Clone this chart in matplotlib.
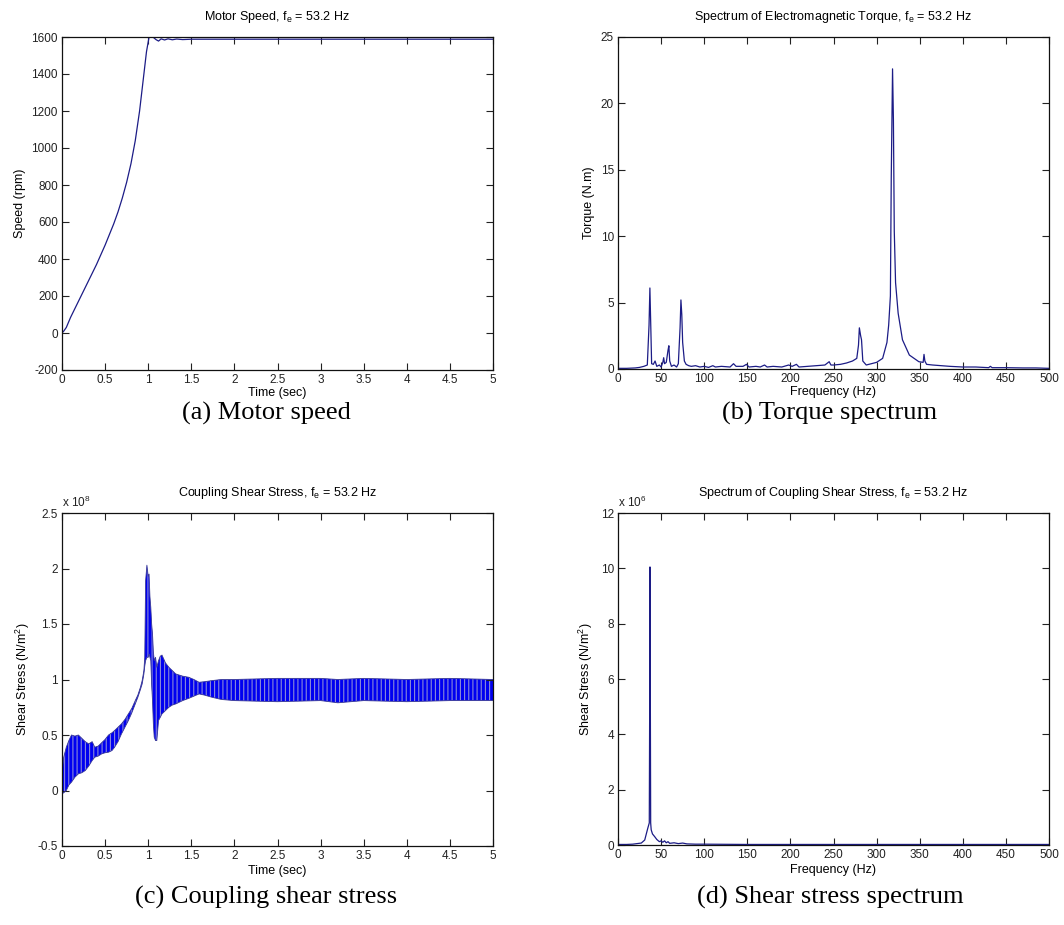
import numpy as np
import matplotlib
matplotlib.use("Agg")
import matplotlib.pyplot as plt
from matplotlib.ticker import FuncFormatter

plt.rcParams['font.family'] = ['Liberation Sans', 'DejaVu Sans']
plt.rcParams['mathtext.fontset'] = 'custom'
plt.rcParams['mathtext.rm'] = 'Liberation Sans'
plt.rcParams['mathtext.default'] = 'regular'
plt.rcParams['axes.unicode_minus'] = False
plt.rcParams['hatch.color'] = '#8a8ad8'
plt.rcParams['hatch.linewidth'] = 0.8

# (a) motor speed, rpm vs time (s)
t_speed = [0, 0.02, 0.05, 0.1, 0.2, 0.3, 0.4, 0.5, 0.6, 0.65, 0.7, 0.75, 0.8, 0.85, 0.9,
           0.95, 0.98, 1.01, 1.03, 1.06, 1.09, 1.12, 1.15, 1.19, 1.23, 1.28, 1.33, 1.4, 1.5, 5.0]
speed = [0, 10, 30, 85, 180, 275, 370, 475, 590, 655, 730, 815, 915, 1040, 1200,
         1400, 1520, 1600, 1612, 1598, 1586, 1578, 1590, 1584, 1590, 1585, 1589, 1586, 1588, 1588]

# (b) spectrum of electromagnetic torque
freq_b = [0, 10, 20, 25, 30, 34, 36, 37, 38, 39, 41, 43, 45, 48, 50, 52, 53, 54, 56, 58, 59, 60,
          62, 65, 68, 70, 72, 73, 74, 75, 77, 79, 82, 85, 90, 95, 100, 105, 110, 113, 120, 130,
          134, 137, 145, 149, 152, 160, 165, 170, 173, 180, 190, 198, 202, 207, 210, 220, 230,
          240, 245, 247, 250, 258, 265, 272, 277, 279, 280, 281.5, 282.5, 284, 288, 294, 300,
          307, 312, 314, 316, 317, 318.5, 319.5, 320.5, 322, 325, 330, 338, 349, 354, 355, 356,
          358, 365, 375, 385, 400, 415, 430, 432, 434, 450, 470, 485, 500]
torque_b = [0.05, 0.05, 0.08, 0.12, 0.2, 0.3, 3.3, 6.1, 3.3, 0.4, 0.35, 0.6, 0.2, 0.3, 0.15, 0.5,
            0.85, 0.4, 0.5, 1.4, 1.75, 0.6, 0.2, 0.3, 0.15, 0.4, 3.1, 5.2, 4.1, 2.0, 0.6, 0.35,
            0.25, 0.2, 0.25, 0.15, 0.2, 0.12, 0.25, 0.15, 0.2, 0.15, 0.4, 0.2, 0.2, 0.35, 0.15,
            0.2, 0.15, 0.3, 0.15, 0.2, 0.15, 0.3, 0.2, 0.35, 0.15, 0.2, 0.25, 0.3, 0.55, 0.3,
            0.3, 0.35, 0.45, 0.6, 0.8, 1.8, 3.1, 2.5, 2.2, 0.6, 0.3, 0.4, 0.5, 0.8, 2.0, 3.3, 5.5,
            14.4, 22.6, 18.8, 10.4, 6.5, 4.2, 2.2, 1.05, 0.55, 0.5, 1.1, 0.6, 0.35, 0.3, 0.25,
            0.2, 0.15, 0.15, 0.1, 0.2, 0.1, 0.1, 0.08, 0.08, 0.05]

# (c) coupling shear stress envelope (x 1e8 N/m^2)
t_stress = [0, 0.02, 0.05, 0.08, 0.11, 0.15, 0.19, 0.23, 0.27, 0.31, 0.35, 0.38, 0.42, 0.46,
            0.5, 0.54, 0.58, 0.61, 0.65, 0.69, 0.73, 0.77, 0.81, 0.85, 0.88, 0.91, 0.93, 0.95,
            0.96, 0.97, 0.985, 1.0, 1.01, 1.02, 1.03, 1.04, 1.05, 1.06, 1.07, 1.085, 1.1, 1.12,
            1.14, 1.16, 1.2, 1.24, 1.28, 1.32, 1.4, 1.47, 1.53, 1.59, 1.65, 1.74, 1.85, 2.0,
            2.5, 3.0, 3.2, 3.5, 4.0, 4.5, 5.0]
stress_hi = [0.15, 0.3, 0.39, 0.45, 0.50, 0.49, 0.50, 0.47, 0.44, 0.42, 0.44, 0.39, 0.40, 0.43,
             0.46, 0.50, 0.52, 0.54, 0.57, 0.60, 0.64, 0.69, 0.74, 0.81, 0.86, 0.93, 0.99, 1.08,
             1.2, 1.89, 2.03, 1.93, 1.95, 1.75, 1.65, 1.5, 1.41, 1.25, 1.17, 1.2, 1.11, 1.17,
             1.21, 1.22, 1.15, 1.11, 1.08, 1.05, 1.03, 1.02, 1.0, 0.975, 0.98, 0.99, 1.0, 1.0,
             1.01, 1.01, 1.0, 1.01, 1.0, 1.01, 1.0]
stress_lo = [-0.03, -0.02, 0.0, 0.05, 0.075, 0.12, 0.15, 0.16, 0.18, 0.22, 0.27, 0.30, 0.31,
             0.33, 0.34, 0.345, 0.36, 0.39, 0.44, 0.51, 0.57, 0.63, 0.7, 0.78, 0.84, 0.91, 0.96,
             1.05, 1.12, 1.17, 1.2, 1.2, 1.23, 1.2, 1.17, 0.95, 0.81, 0.6, 0.48, 0.45, 0.45,
             0.63, 0.66, 0.69, 0.72, 0.75, 0.77, 0.78, 0.81, 0.83, 0.85, 0.87, 0.86, 0.84, 0.82,
             0.81, 0.80, 0.81, 0.79, 0.81, 0.80, 0.81, 0.81]

# (d) spectrum of coupling shear stress (x 1e6 N/m^2)
freq_d = [0, 10, 17, 22, 27, 31, 34.5, 36.3, 36.8, 37.1, 37.5, 37.9, 38.5, 40, 42.6, 45, 48,
          50, 52, 54, 56, 58, 60, 65, 70, 75, 80, 90, 100, 150, 200, 300, 400, 500]
stress_d = [0.02, 0.02, 0.03, 0.05, 0.07, 0.18, 0.6, 0.8, 5.5, 10.05, 5.5, 0.8, 0.55, 0.4,
            0.3, 0.2, 0.12, 0.15, 0.1, 0.15, 0.08, 0.12, 0.06, 0.08, 0.05, 0.07, 0.04, 0.03,
            0.03, 0.02, 0.02, 0.02, 0.02, 0.02]

line_col = '#1c1c86'
fs = 9
tfs = 8.5

fig = plt.figure(figsize=(10.64, 9.25), dpi=100)
W, H = 1064, 925


def make_ax(left, top, right, bottom):
    return fig.add_axes([left / W, 1 - bottom / H, (right - left) / W, (bottom - top) / H])


def style(ax):
    ax.tick_params(direction='in', top=True, right=True, length=5, width=0.8,
                   labelsize=tfs, pad=3, colors='#222222')
    for s in ax.spines.values():
        s.set_linewidth(0.9)
        s.set_color('#111111')


g = FuncFormatter(lambda v, p: '%g' % v)

ax1 = make_ax(62, 37, 493, 370)
ax1.plot(t_speed, speed, color=line_col, lw=0.9)
ax1.set_xlim(0, 5)
ax1.set_ylim(-200, 1600)
ax1.set_xticks(np.arange(0, 5.01, 0.5))
ax1.set_yticks(np.arange(-200, 1601, 200))
ax1.xaxis.set_major_formatter(g)
ax1.set_title('Motor Speed, f$_e$ = 53.2 Hz', fontsize=fs, pad=12)
ax1.set_xlabel('Time (sec)', fontsize=fs, labelpad=0.5)
ax1.set_ylabel('Speed (rpm)', fontsize=fs)
style(ax1)

ax2 = make_ax(618, 37, 1049, 369)
ax2.plot(freq_b, torque_b, color=line_col, lw=0.9)
ax2.set_xlim(0, 500)
ax2.set_ylim(0, 25)
ax2.set_xticks(np.arange(0, 501, 50))
ax2.set_yticks(np.arange(0, 26, 5))
ax2.set_title('Spectrum of Electromagnetic Torque, f$_e$ = 53.2 Hz', fontsize=fs, pad=12)
ax2.set_xlabel('Frequency (Hz)', fontsize=fs, labelpad=0.5)
ax2.set_ylabel('Torque (N.m)', fontsize=fs)
style(ax2)

ax3 = make_ax(62, 513, 493, 846)
ax3.fill_between(t_stress, stress_lo, stress_hi, facecolor='#0000f0', hatch='||||', lw=0)
ax3.plot(t_stress, stress_hi, color='#3a3a96', lw=0.6)
ax3.plot(t_stress, stress_lo, color='#3a3a96', lw=0.6)
ax3.set_xlim(0, 5)
ax3.set_ylim(-0.5, 2.5)
ax3.set_xticks(np.arange(0, 5.01, 0.5))
ax3.set_yticks(np.arange(-0.5, 2.51, 0.5))
ax3.xaxis.set_major_formatter(g)
ax3.yaxis.set_major_formatter(g)
ax3.set_title('Coupling Shear Stress, f$_e$ = 53.2 Hz', fontsize=fs, pad=12)
ax3.set_xlabel('Time (sec)', fontsize=fs, labelpad=2)
ax3.set_ylabel('Shear Stress (N/m$^2$)', fontsize=fs)
ax3.text(0, 1.008, 'x 10$^8$', transform=ax3.transAxes, fontsize=tfs,
         ha='left', va='bottom', color='#222222')
style(ax3)

ax4 = make_ax(618, 513, 1049, 845)
ax4.plot(freq_d, stress_d, color=line_col, lw=0.9)
ax4.set_xlim(0, 500)
ax4.set_ylim(0, 12)
ax4.set_xticks(np.arange(0, 501, 50))
ax4.set_yticks(np.arange(0, 13, 2))
ax4.set_title('Spectrum of Coupling Shear Stress, f$_e$ = 53.2 Hz', fontsize=fs, pad=12)
ax4.set_xlabel('Frequency (Hz)', fontsize=fs, labelpad=2)
ax4.set_ylabel('Shear Stress (N/m$^2$)', fontsize=fs)
ax4.text(0, 1.008, 'x 10$^6$', transform=ax4.transAxes, fontsize=tfs,
         ha='left', va='bottom', color='#222222')
style(ax4)

captions = ['(a) Motor speed', '(b) Torque spectrum',
            '(c) Coupling shear stress', '(d) Shear stress spectrum']
cap_xy = [(266, 413), (830, 413), (266, 897), (830, 897)]
for txt, (cx, cy) in zip(captions, cap_xy):
    fig.text(cx / W, 1 - cy / H, txt, ha='center', va='center',
             family='Liberation Serif', fontsize=19)

fig.savefig('out.png', dpi=100)
